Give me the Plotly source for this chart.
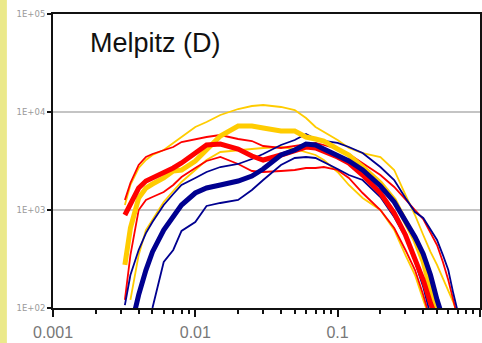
import plotly.graph_objects as go

# particle diameter (µm)
diameter = [0.003, 0.0032, 0.0035, 0.004, 0.0045, 0.005, 0.006, 0.007, 0.008, 0.01,
            0.012, 0.015, 0.02, 0.025, 0.03, 0.04, 0.05, 0.06, 0.07, 0.08,
            0.1, 0.12, 0.15, 0.2, 0.25, 0.3, 0.35, 0.4, 0.45, 0.5,
            0.55, 0.6, 0.65, 0.7]

N = None
red_median = [N, 889, 1125, 1677, 1977, 2121, 2442, 2683, 3017, 3815,
              4605, 4715, 4192, 3556, 3237, 3640, 4094, 4394, 4293, 3999,
              3474, 3017, 2276, 1491, 932, 556, 324, 193, 112, 75,
              N, N, N, N]
red_upper = [N, 1265, 1886, 2879, 3474, 3727, 4094, 4394, 4940, 5302,
             5557, 5824, 5302, 5058, 4498, 4293, 4498, 4715, 4829, 4605,
             4192, 3727, 3017, 2276, 1717, 1265, 1000, 809, 582, 439,
             295, 193, 121, 79]
red_lower = [N, 121, 347, 1000, 1265, 1357, 1527, 1800, 2171, 2683,
             3162, 3474, 2947, 2500, 2442, 2500, 2560, 2683, 2683, 2746,
             2560, 2121, 1491, 1000, 655, 391, 244, 136, 75, N,
             N, N, N, N]
yellow_median = [N, 275, 655, 1326, 1677, 1842, 2121, 2500, 2560, 3162,
                 4192, 5690, 7197, 7197, 6866, 6400, 6400, 5557, 5302, 5058,
                 4192, 3640, 2746, 1886, 1265, 754, 494, 295, 146, 85,
                 N, N, N, N]
yellow_upper = [N, 1125, 1800, 2683, 3237, 3640, 4094, 4829, 5557, 7030,
                7907, 9320, 10730, 11510, 11790, 11250, 10480, 8686, 7030, 6250,
                5179, 4293, 3815, 3474, 2560, 1423, 889, 556, 373, 275,
                202, 153, 115, 85]
yellow_lower = [N, N, 121, 347, 625, 791, 1207, 1563, 1931, 2560,
                3237, 3907, 4094, 4192, 4293, 4394, 4192, 3907, 3640, 3237,
                2442, 1800, 1326, 1000, 625, 347, 217, 121, 75, N,
                N, N, N, N]
blue_median = [N, N, 60, 136, 244, 373, 625, 869, 1125, 1491,
               1677, 1800, 1977, 2223, 2620, 3640, 4094, 4715, 4605, 4192,
               3640, 3162, 2560, 1757, 1207, 791, 530, 356, 217, 121,
               79, N, N, N]
blue_upper = [N, 107, 217, 391, 582, 754, 1125, 1457, 1800, 2121,
              2442, 2746, 2947, 3314, 3727, 4605, 5179, 5963, 5302, 5058,
              4829, 4394, 3815, 2746, 2024, 1326, 954, 829, 625, 494,
              347, 244, 142, 91]
blue_lower = [N, N, N, N, 60, 100, 295, 391, 611, 754,
              1099, 1179, 1265, 1600, 2024, 2879, 3393, 3474, 3393, 3090,
              2620, 2276, 2024, 1357, 848, 530, 295, 164, 85, N,
              N, N, N, N]

x_tick_vals = [0.001, 0.01, 0.1, 1]
x_tick_text = ["0.001", "0.01", "0.1", "1"]
y_tick_vals = [100, 1000, 10000, 100000]
y_tick_text = ["1E+02", "1E+03", "1E+04", "1E+05"]
title_text = "Melpitz (D)"

RED = "#ff0000"
YELLOW = "#ffcc00"
BLUE = "#000090"

fig = go.Figure()
thin = [(yellow_upper, YELLOW), (yellow_lower, YELLOW), (red_upper, RED), (red_lower, RED),
        (blue_upper, BLUE), (blue_lower, BLUE)]
for ys, c in thin:
    fig.add_trace(go.Scatter(x=diameter, y=ys, mode="lines", connectgaps=False,
                             line=dict(color=c, width=1.8), showlegend=False))
thick = [(yellow_median, YELLOW), (red_median, RED), (blue_median, BLUE)]
for ys, c in thick:
    fig.add_trace(go.Scatter(x=diameter, y=ys, mode="lines", connectgaps=False,
                             line=dict(color=c, width=5), showlegend=False))

minor_vals = [m * 10 ** e for e in (-3, -2, -1) for m in range(2, 10)]

fig.update_xaxes(type="log", range=[-3, 0.001], showgrid=False, zeroline=False, automargin=False,
                 showline=True, linecolor="#111", linewidth=2, mirror=True,
                 tickmode="array", tickvals=x_tick_vals, ticktext=x_tick_text,
                 ticks="outside", ticklen=7, tickwidth=2, tickcolor="#111",
                 ticklabelstandoff=2,
                 tickfont=dict(family="Liberation Sans, Arial", size=16, color="#777"),
                 minor=dict(tickmode="array", tickvals=minor_vals, ticks="outside",
                            ticklen=4, tickwidth=2, tickcolor="#111", showgrid=False))
fig.update_yaxes(type="log", range=[2, 5], showgrid=True, gridcolor="#c4c4c4", gridwidth=2,
                 zeroline=False, showline=True, linecolor="#111", linewidth=2, mirror=True,
                 automargin=False,
                 tickmode="array", tickvals=y_tick_vals, ticktext=y_tick_text,
                 ticks="outside", ticklen=4, tickwidth=2, tickcolor="#111",
                 tickfont=dict(family="DejaVu Sans", size=8.5, color="#9a9a9a"))

fig.add_shape(type="rect", xref="paper", yref="paper", x0=-0.125, x1=-0.108,
              y0=-0.13, y1=1.06, fillcolor="#ebe98a", line=dict(width=0), layer="below")

fig.add_annotation(text=title_text, xref="paper", yref="paper", x=0.082, y=0.9,
                   xanchor="left", yanchor="middle", showarrow=False,
                   font=dict(family="Liberation Sans, Arial", size=27, color="#111"))

fig.update_layout(width=482, height=343, margin=dict(l=53, r=2, t=14, b=35),
                  paper_bgcolor="white", plot_bgcolor="white")

fig.write_html("out.html", config={"displayModeBar": False},
               post_script="document.body.style.margin='0';")
